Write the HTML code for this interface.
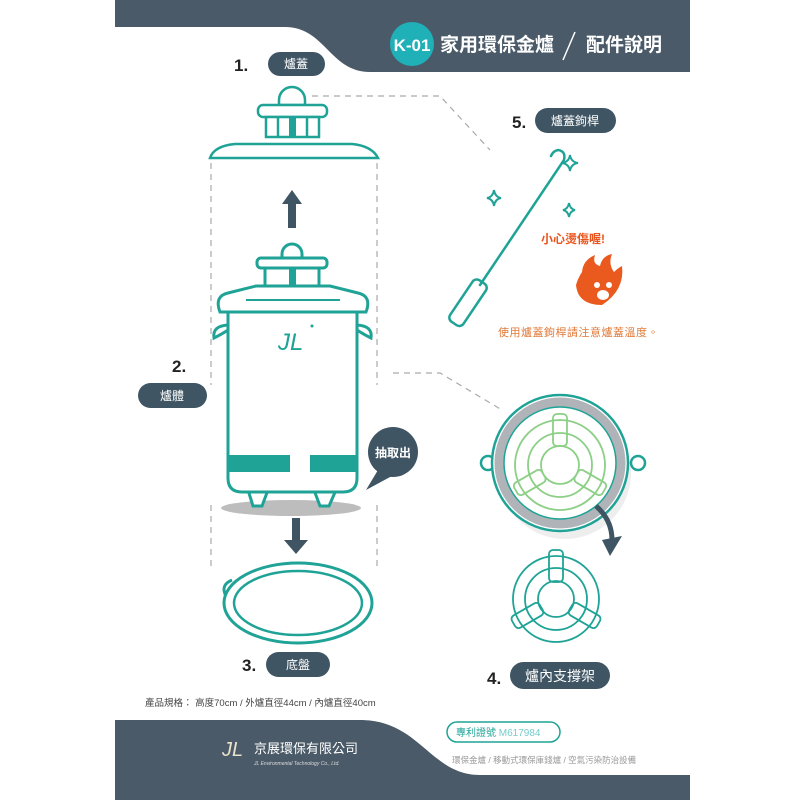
<!DOCTYPE html>
<html><head><meta charset="utf-8"><style>
body{margin:0;background:#fff}
svg{display:block}
text{font-family:"Liberation Sans","Noto Sans CJK TC",sans-serif}
</style></head><body>
<svg width="800" height="800" viewBox="0 0 800 800" xmlns="http://www.w3.org/2000/svg">
<!-- header -->
<path d="M115 0H690V72H370C330 72 325 27 285 27H115Z" fill="#4a5a68"/>
<circle cx="412" cy="44" r="22" fill="#1fb0b8"/>
<text x="412" y="51" font-size="17" font-weight="bold" fill="#fff" text-anchor="middle">K-01</text>
<text x="440" y="51" font-size="19" font-weight="bold" fill="#fff">家用環保金爐</text>
<line x1="575" y1="32" x2="563" y2="60" stroke="#fff" stroke-width="1.5"/>
<text x="586" y="51" font-size="19" font-weight="bold" fill="#fff">配件說明</text>

<g fill="#222" font-size="17" font-weight="bold">
<text x="234" y="71">1.</text><text x="512" y="128">5.</text><text x="172" y="372">2.</text><text x="242" y="671">3.</text><text x="487" y="684">4.</text>
</g>
<g fill="#3f5563">
<rect x="268" y="52" width="57" height="24" rx="12"/>
<rect x="535" y="108" width="81" height="25" rx="12.5"/>
<rect x="138" y="383" width="69" height="25" rx="12.5"/>
<rect x="266" y="652" width="64" height="25" rx="12.5"/>
<rect x="510" y="662" width="100" height="27" rx="13.5"/>
</g>
<g fill="#fff" font-size="12" text-anchor="middle">
<text x="296" y="68">爐蓋</text><text x="575" y="125">爐蓋鉤桿</text><text x="172" y="400">爐體</text><text x="298" y="669">底盤</text><text x="560" y="681" font-size="14">爐內支撐架</text>
</g>

<!-- dashed guides -->
<g stroke="#aaa" stroke-width="1.2" stroke-dasharray="6 5" fill="none">
<line x1="211" y1="163" x2="211" y2="385"/><line x1="377" y1="163" x2="377" y2="385"/>
<line x1="211" y1="505" x2="211" y2="570"/><line x1="377" y1="505" x2="377" y2="570"/>
<path d="M312 96H440L490 150"/>
<path d="M393 373H440L502 410"/>
</g>

<!-- lid -->
<g stroke="#1fa396" stroke-width="2.5" fill="#fff">
<path d="M279 105V100A13 13 0 0 1 305 100V105Z"/>
<rect x="258" y="105" width="69" height="12" rx="5"/>
<rect x="266" y="117" width="53" height="20"/>
<line x1="278" y1="117" x2="278" y2="137"/><line x1="307" y1="117" x2="307" y2="137"/>
<path d="M210 158Q214 146 235 144H352Q372 146 378 158Z"/>
</g>
<rect x="289" y="117" width="7" height="20" fill="#1fa396"/>
<path d="M292 190L282 204H288V228H296V204H302Z" fill="#3f5563"/>

<!-- body -->
<ellipse cx="291" cy="508" rx="70" ry="8" fill="#bdbdbd"/>
<g stroke="#1fa396" stroke-width="3" fill="#fff">
<path d="M248 490L253 506H262L268 490"/><path d="M314 490L320 506H329L336 490"/>
<path d="M228 325Q212 326 214 338Q222 334 228 330"/><path d="M357 325Q373 326 371 338Q363 334 357 330"/>
<path d="M228 310V478Q228 492 242 492H343Q357 492 357 478V310Z"/>
<path d="M220 312Q214 296 228 293L256 286H330L358 293Q372 296 366 312Z"/>
<rect x="257" y="258" width="70" height="10" rx="4"/>
<rect x="265" y="268" width="54" height="18"/>
<path d="M282 258V254A10 10 0 0 1 302 254V258Z"/>
</g>
<rect x="289" y="268" width="7" height="18" fill="#1fa396"/>
<line x1="246" y1="300" x2="340" y2="300" stroke="#1fa396" stroke-width="2"/>
<rect x="229" y="455" width="61" height="17" fill="#1fa396"/>
<rect x="310" y="455" width="46" height="17" fill="#1fa396"/>
<text x="278" y="350" font-size="24" font-style="italic" fill="#1fa396" font-family="Liberation Serif,serif">JL</text>
<circle cx="312" cy="326" r="1.5" fill="#1fa396"/>
<path d="M292 518H300V540H308L296 554L284 540H292Z" fill="#3f5563"/>

<!-- bubble -->
<path d="M378 470L366 490L392 476Z" fill="#3f5563"/>
<circle cx="393" cy="452" r="25" fill="#3f5563"/>
<text x="393" y="457" font-size="12" font-weight="bold" fill="#fff" text-anchor="middle">抽取出</text>

<!-- plate -->
<g stroke="#1fa396" stroke-width="3" fill="#fff">
<path d="M232 580Q220 585 226 596"/>
<ellipse cx="298" cy="603" rx="74" ry="40"/>
<ellipse cx="298" cy="603" rx="64" ry="32" stroke-width="2.5"/>
</g>

<!-- hook -->
<g stroke="#1fa396" stroke-width="2.5" fill="none" stroke-linecap="round">
<path d="M480 285L564 160Q566 151 558 150Q553 151 551 156"/>
<rect x="-8" y="0" width="16" height="50" rx="5" transform="translate(482 282) rotate(34)"/>
<path d="M570 155Q571 162 578 163Q571 164 570 171Q569 164 562 163Q569 162 570 155Z" stroke-width="2"/>
<path d="M494 190Q495 197 501 198Q495 199 494 206Q493 199 487 198Q493 197 494 190Z" stroke-width="2"/>
<path d="M569 203Q570 209 575 210Q570 211 569 217Q568 211 563 210Q568 209 569 203Z" stroke-width="2"/>
</g>
<text x="573" y="243" font-size="12" font-weight="bold" fill="#e9541c" text-anchor="middle">小心燙傷喔!</text>
<path d="M582 272Q583 260 595 255Q592 264 600 266Q602 256 612 254Q608 264 614 272Q618 268 622 266Q625 290 602 305Q578 305 576 285Q578 278 582 272Z" fill="#ea5a1e"/>
<circle cx="597" cy="285" r="3" fill="#fff"/><circle cx="609" cy="285" r="3" fill="#fff"/>
<ellipse cx="603" cy="295" rx="6" ry="5" fill="#fff"/>
<text x="498" y="336" font-size="11" fill="#e07a3a" letter-spacing="0.5">使用爐蓋鉤桿請注意爐蓋溫度。</text>

<!-- ring -->
<ellipse cx="565" cy="473" rx="66" ry="66" fill="#eee"/>
<g fill="#fff" stroke="#1fa396" stroke-width="2.5">
<circle cx="488" cy="463" r="7"/><circle cx="638" cy="463" r="7"/>
<circle cx="560" cy="463" r="68"/>
</g>
<circle cx="560" cy="463" r="61" fill="none" stroke="#b0b4b8" stroke-width="9"/>
<circle cx="560" cy="463" r="56" fill="#fff" stroke="#1fa396" stroke-width="1.5"/>
<g fill="none" stroke="#8ccf86" stroke-width="1.8">
<circle cx="560" cy="465" r="45"/><circle cx="560" cy="465" r="32"/><circle cx="560" cy="465" r="19"/>
<rect x="553" y="414" width="14" height="32" rx="4"/>
<rect x="553" y="414" width="14" height="32" rx="4" transform="rotate(120 560 465)"/>
<rect x="553" y="414" width="14" height="32" rx="4" transform="rotate(240 560 465)"/>
</g>
<path d="M596 506Q612 520 612 540" stroke="#3f5563" stroke-width="5" fill="none"/>
<path d="M602 540L622 536L610 556Z" fill="#3f5563"/>
<g fill="none" stroke="#1fa396" stroke-width="1.8">
<circle cx="556" cy="599" r="43"/><circle cx="556" cy="599" r="31"/><circle cx="556" cy="599" r="18"/>
<rect x="549" y="550" width="14" height="32" rx="4"/>
<rect x="549" y="550" width="14" height="32" rx="4" transform="rotate(120 556 599)"/>
<rect x="549" y="550" width="14" height="32" rx="4" transform="rotate(240 556 599)"/>
</g>

<text x="145" y="706" font-size="9.5" fill="#444">產品規格：  高度70cm / 外爐直徑44cm / 內爐直徑40cm</text>

<!-- footer -->
<path d="M115 720H360C420 720 430 775 480 775H690V800H115Z" fill="#4a5a68"/>
<rect x="447" y="722" width="113" height="20" rx="10" fill="#fff" stroke="#1fa396" stroke-width="1.5"/>
<text x="456" y="736" font-size="10" fill="#1fa396">專利證號 <tspan fill="#7cc">M617984</tspan></text>
<text x="452" y="763" font-size="8.5" fill="#999">環保金爐 / 移動式環保庫錢爐 / 空氣污染防治設備</text>
<text x="222" y="756" font-size="20" font-style="italic" fill="#e8e2c8" font-family="Liberation Serif,serif">JL</text>
<text x="254" y="753" font-size="13" fill="#fff">京展環保有限公司</text>
<text x="254" y="765" font-size="5" font-style="italic" fill="#ddd">JL Environmental Technology Co., Ltd.</text>
</svg>
</body></html>
